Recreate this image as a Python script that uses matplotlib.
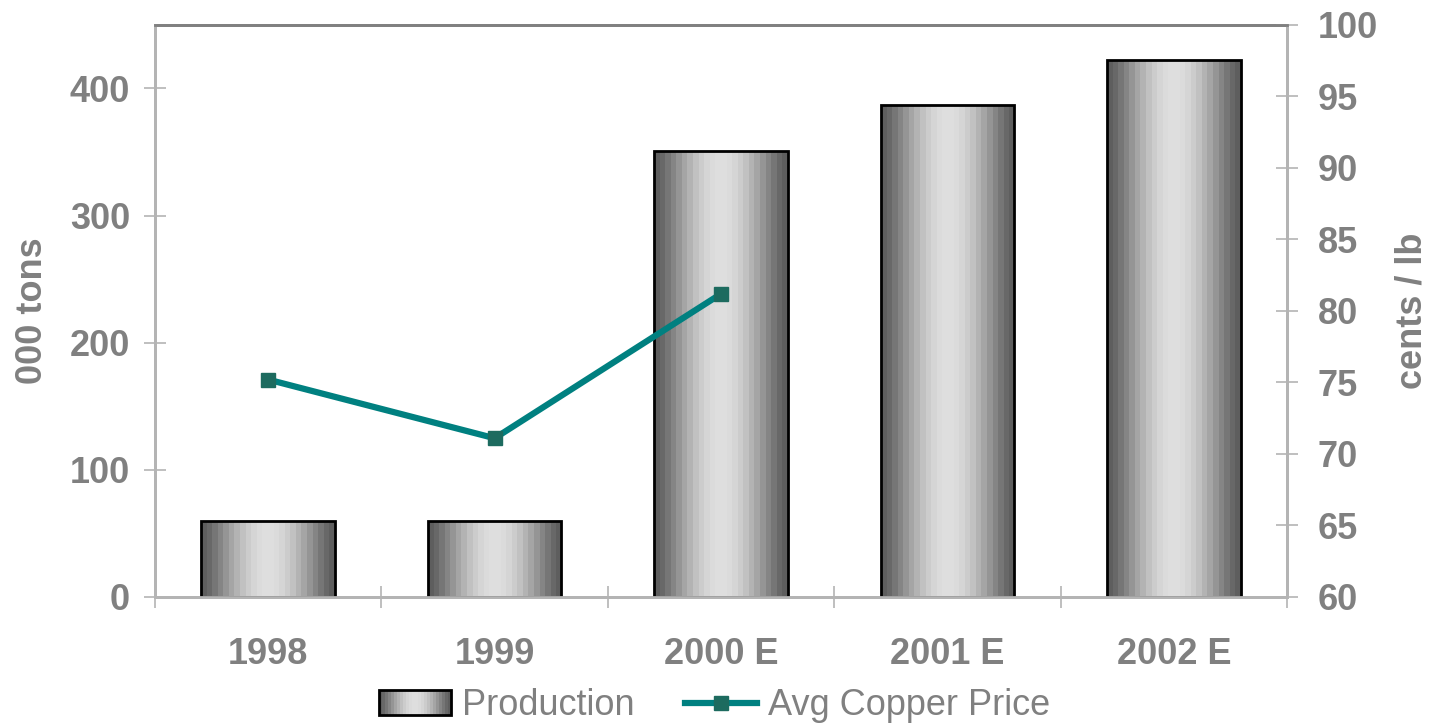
import numpy as np
import matplotlib
matplotlib.use("Agg")
import matplotlib.pyplot as plt
from matplotlib.patches import Rectangle
from matplotlib.lines import Line2D
from matplotlib.legend_handler import HandlerBase

categories = ["1998", "1999", "2000 E", "2001 E", "2002 E"]
production = [60, 60, 351, 387, 422]
price_cats = ["1998", "1999", "2000 E"]
price = [75.2, 71.1, 81.2]

plt.rcParams['font.family'] = ['Liberation Sans', 'DejaVu Sans']
GRAY = "#808080"
LGRAY = "#b4b4b4"

fig = plt.figure(figsize=(14.35, 7.26), dpi=100)
ax = fig.add_axes([0.108, 0.1777, 0.789, 0.788])
ax2 = ax.twinx()

x = np.arange(len(categories))
width = 0.59

# cylinder gradient
t = np.linspace(0, 1, 24)
shade = 0.37 + (0.87 - 0.37) * np.sin(np.pi * t) ** 1.3
grad = np.tile(shade, (2, 1))
cmap = plt.get_cmap("gray")

bars = ax.bar(x, production, width, color="none", edgecolor="black", linewidth=2, zorder=3)
for b in bars:
    x0, y0 = b.get_x(), b.get_y()
    w, h = b.get_width(), b.get_height()
    im = ax.imshow(grad, cmap=cmap, vmin=0, vmax=1, aspect="auto",
                   extent=[x0, x0 + w, y0, y0 + h], interpolation="nearest", zorder=2)
    clip = Rectangle((x0, y0), w, h, transform=ax.transData)
    im.set_clip_path(clip)
ax.set_xlim(-0.5, len(categories) - 0.5)
ax.set_ylim(0, 450)
ax2.set_ylim(60, 100)

px = [categories.index(c) for c in price_cats]
ax2.plot(px, price, color="#008080", linewidth=4.5, marker="s", markersize=10,
         markerfacecolor="#1d6b5f", markeredgecolor="#1d6b5f", zorder=5)

for a in (ax, ax2):
    a.spines['top'].set_color(GRAY)
    a.spines['top'].set_linewidth(2)
    for s in ('left', 'right', 'bottom'):
        a.spines[s].set_color(LGRAY)
        a.spines[s].set_linewidth(2)

ax.set_yticks([0, 100, 200, 300, 400])
ax2.set_yticks(np.arange(60, 101, 5))
ax.set_xticks(np.arange(-0.5, len(categories) + 0.5, 1), minor=False)
ax.set_xticklabels([])
ax.set_xticks(x, minor=True)
ax.set_xticklabels(categories, minor=True)
ax.tick_params(axis='x', which='major', direction='inout', length=16, width=1.2, color=LGRAY)
ax.tick_params(axis='x', which='minor', length=0, pad=29, labelsize=26, labelcolor=GRAY)
ax.tick_params(axis='y', direction='inout', length=16, width=1.2, color=LGRAY,
               labelsize=26, labelcolor=GRAY, pad=10)
ax2.tick_params(axis='y', direction='inout', length=16, width=1.2, color=LGRAY,
                labelsize=26, labelcolor=GRAY, pad=14)
for lbl in ax.get_yticklabels() + ax2.get_yticklabels() + ax.get_xticklabels(minor=True):
    lbl.set_fontweight("bold")

ax.set_ylabel("000 tons", fontsize=26, fontweight="bold", color=GRAY, labelpad=14)
ax2.set_ylabel("cents / lb", fontsize=26, fontweight="bold", color=GRAY, labelpad=12)

class GradHandler(HandlerBase):
    def create_artists(self, legend, orig, xd, yd, w, h, fontsize, trans):
        arts = []
        n = len(shade)
        for i, s in enumerate(shade):
            r = Rectangle((xd + w * i / n, yd), w / n + 0.3, h, facecolor=cmap(s),
                          edgecolor="none", transform=trans)
            arts.append(r)
        arts.append(Rectangle((xd, yd), w, h, facecolor="none", edgecolor="black",
                              linewidth=2, transform=trans))
        return arts

prod_handle = Rectangle((0, 0), 1, 1)
line_handle = Line2D([], [], color="#008080", linewidth=4.5, marker="s", markersize=10,
                     markerfacecolor="#1d6b5f", markeredgecolor="#1d6b5f")
leg = fig.legend([prod_handle, line_handle], ["Production", "Avg Copper Price"],
                 loc="center", bbox_to_anchor=(0.498, 0.028), ncol=2, frameon=False,
                 fontsize=26, handler_map={Rectangle: GradHandler()},
                 handlelength=2.0, handletextpad=0.3, columnspacing=1.4)
for tx in leg.get_texts():
    tx.set_color(GRAY)

fig.savefig("out.png", dpi=100)
